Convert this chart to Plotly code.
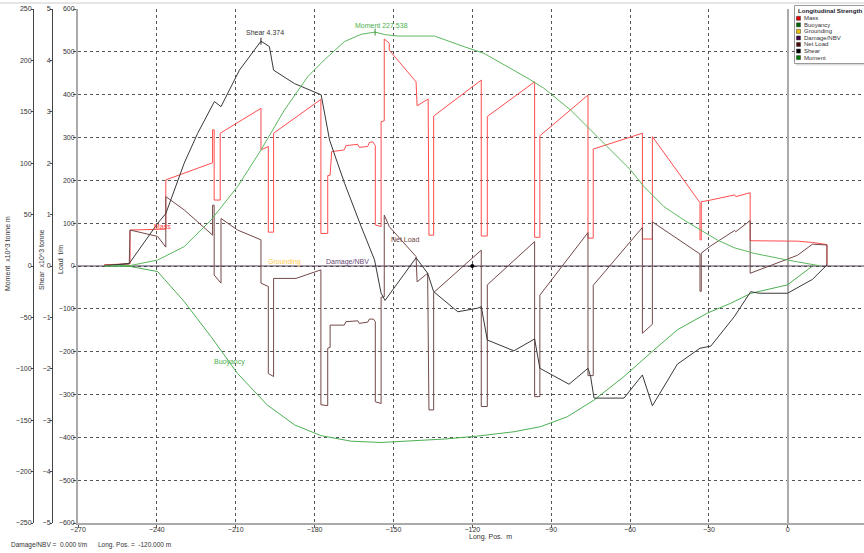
import plotly.graph_objects as go

# ---- Longitudinal strength data (position in m) ----
mass_x = [-260, -250.2, -250.2, -236.6, -236.6, -218.8, -218.8, -218.2, -218.2, -215.9,
          -215.9, -200.4, -200.4, -197.6, -197.6, -195.6, -195.6, -177.6, -177.6, -175.0,
          -175.0, -174.1, -173.5, -168.7, -168.1, -163.6, -163.0, -159.8, -159.2, -157.9,
          -156.9, -156.9, -154.7, -154.7, -153.5, -153.5, -151.6, -151.6, -141.4, -141.0,
          -136.8, -136.5, -134.7, -134.7, -116.6, -116.6, -114.3, -114.3, -96.3, -96.3,
          -94.3, -94.3, -76.0, -76.0, -74.0, -74.0, -55.3, -55.3, -51.5, -51.5,
          -33.4, -33.4, -32.9, -32.9, -29.3, -20.2, -19.8, -14.3, -14.3, 3.7,
          9.4, 14.9, 14.9]
mass_load = [3, 5, 84, 86, 201, 241, 318, 318, 154, 154,
             310, 368, 271, 279, 79, 79, 310, 389, 76, 76,
             211, 212, 267, 271, 281, 284, 277, 279, 288, 290,
             281, 96, 92, 337, 339, 530, 520, 504, 430, 374,
             390, 72, 72, 350, 434, 70, 70, 349, 430, 67,
             67, 304, 399, 65, 65, 273, 310, 63, 63, 302,
             148, 61, 61, 150, 154, 166, 162, 171, 59, 58,
             55, 50, 0]

net_x = [-260, -250.5, -250.2, -239.7, -236.6, -236.6, -229.6, -218.8, -218.8, -218.2,
         -218.2, -215.6, -215.6, -209.3, -200.4, -200.4, -197.6, -197.6, -195.6, -195.6,
         -187.1, -177.6, -177.6, -175.0, -175.0, -174.1, -174.1, -168.7, -168.1, -163.6,
         -163.0, -159.8, -159.2, -157.6, -156.9, -156.9, -154.7, -154.7, -153.5, -153.5,
         -151.6, -141.4, -141.0, -137.0, -136.5, -134.7, -134.7, -116.6, -116.6, -114.3,
         -114.3, -96.3, -96.3, -94.3, -94.3, -76.0, -76.0, -74.0, -74.0, -55.3,
         -55.3, -51.5, -51.5, -33.4, -33.4, -32.9, -32.9, -29.3, -20.2, -19.8,
         -14.3, -14.3, 3.7, 9.4, 14.9, 14.9]
net_load = [2, 5, 84, 69, 44, 162, 131, 72, 142, 142,
            -21, -40, 111, 84, 61, -40, -48, -251, -258, -29,
            -29, -9, -324, -326, -192, -190, -138, -138, -130, -128,
            -134, -131, -124, -124, -130, -317, -321, -73, -72, 119,
            92, 22, -37, -17, -336, -336, -62, 37, -328, -328,
            -44, 57, -305, -305, -68, 78, -256, -256, -45, 90,
            -157, -136, 103, 28, -59, -59, 30, 47, 83, 80,
            106, -17, 25, 51, 49, 0]

buoy_x = [-260, -250.2, -239.7, -229.6, -219.4, -209.3, -197.9, -187.6, -177.6, -166.1,
          -154.7, -143.3, -130.6, -117.9, -104.2, -94.0, -83.9, -73.7, -62.3, -50.9,
          -42.0, -30.6, -21.7, -14.1, -0.1, 9.4]
buoy_load = [0, -1, -13, -83, -165, -251, -325, -371, -396, -409,
             -412, -409, -404, -397, -387, -375, -352, -313, -258, -196,
             -149, -110, -87, -64, -44, 0]

moment_x = [-260, -250, -239.7, -229.6, -219.4, -209.3, -200.4, -191.5, -182.6, -176.3,
            -168.7, -162.3, -157.0, -153.0, -148.3, -134.4, -123.2, -115.6, -97.8, -92.7,
            -82.6, -76.2, -67.4, -59.8, -54.7, -47.1, -39.5, -33.1, -26.8, -20.4,
            -12.8, -0.1, 9.4, 12.6]
moment_val = [0, 0.5, 5.8, 18.8, 44.7, 77.2, 112.8, 151.7, 184.2, 200.4,
              218.2, 225.4, 227.538, 225.0, 223.7, 223.7, 213.4, 206.9, 181.0, 172.8,
              151.7, 135.5, 112.8, 93.4, 77.2, 57.7, 44.7, 35.0, 25.3, 17.8,
              12.3, 5.8, 1.0, 0]

shear_x = [-260, -250.5, -239.7, -236.6, -229.6, -224.5, -218.1, -215.6, -208.6, -200.4,
           -197.2, -195.6, -187.7, -177.5, -174.3, -168.6, -162.3, -157.2, -154.7, -153.2,
           -141.4, -137.0, -134.7, -125.5, -117.9, -116.6, -114.3, -104.2, -96.3, -94.3,
           -83.2, -76.0, -75.0, -73.7, -62.3, -55.3, -51.5, -42.0, -33.4, -29.3,
           -20.4, -14.1, -10.9, -0.1, 9.4, 14.9]
shear_val = [0, 0.05, 0.83, 1.02, 2.0, 2.58, 3.2, 3.1, 3.81, 4.374,
             4.27, 3.81, 3.55, 3.33, 2.45, 1.61, 0.77, 0.12, -0.53, -0.67,
             0.16, -0.14, -0.5, -0.89, -0.82, -0.79, -1.44, -1.65, -1.42, -1.99,
             -2.3, -1.99, -2.15, -2.57, -2.57, -2.12, -2.72, -1.91, -1.6, -1.56,
             -0.99, -0.5, -0.53, -0.53, -0.26, 0.02]

zero_x = [-270, 29]
damage_load = [0, 0]

x_ticks = [-270, -240, -210, -180, -150, -120, -90, -60, -30, 0]
load_ticks = list(range(-600, 601, 100))
shear_ticks = list(range(-5, 6, 1))
moment_ticks = list(range(-250, 251, 50))

cursor_pos = -120.0
cursor_value = 0.0

legend_names = ["Mass", "Buoyancy", "Grounding", "Damage/NBV", "Net Load", "Shear", "Moment"]
legend_swatches = ["#e00000", "#006400", "#f0c000", "#3c0040", "#4a0808", "#000000", "#007a00"]

# ---- figure ----
W, H = 864, 553
L_PX, T_PX, B_PX = 78, 9, 523
FONT = "Liberation Sans"


def px(x):
    # margins are zero left/right, so paper x is just pixels / width
    return x / W


def py(y):
    return (B_PX - y) / (B_PX - T_PX)


fig = go.Figure()

fig.add_trace(go.Scatter(x=zero_x, y=damage_load, mode="lines",
                         line=dict(color="#4e3452", width=1), hoverinfo="skip"))
fig.add_trace(go.Scatter(x=buoy_x, y=buoy_load, mode="lines",
                         line=dict(color="#4caf50", width=1)))
fig.add_trace(go.Scatter(x=moment_x, y=moment_val, mode="lines", yaxis="y3",
                         line=dict(color="#5cb85c", width=1)))
fig.add_trace(go.Scatter(x=mass_x, y=mass_load, mode="lines",
                         line=dict(color="#ff4d4d", width=1)))
fig.add_trace(go.Scatter(x=net_x, y=net_load, mode="lines",
                         line=dict(color="#744848", width=1)))
fig.add_trace(go.Scatter(x=shear_x, y=shear_val, mode="lines", yaxis="y2",
                         line=dict(color="#383838", width=1)))

# peak markers
i_m = moment_val.index(max(moment_val))
i_s = shear_val.index(max(shear_val))
fig.add_trace(go.Scatter(x=[moment_x[i_m]], y=[moment_val[i_m]], yaxis="y3", mode="markers",
                         marker=dict(symbol="line-ns", size=5, line=dict(color="#3a8a3a", width=1))))
fig.add_trace(go.Scatter(x=[shear_x[i_s]], y=[shear_val[i_s]], yaxis="y2", mode="markers",
                         marker=dict(symbol="line-ns", size=5, line=dict(color="#222", width=1))))
# cursor point
fig.add_trace(go.Scatter(x=[cursor_pos], y=[cursor_value], mode="markers",
                         marker=dict(symbol="circle", size=4, color="#000")))

tick_font = dict(family=FONT, size=7, color="#333")
grid = dict(showgrid=True, gridcolor="#555", griddash="dot", gridwidth=1)

fig.update_layout(
    width=W, height=H,
    margin=dict(l=0, r=0, t=T_PX, b=H - B_PX, pad=0, autoexpand=False),
    paper_bgcolor="white", plot_bgcolor="white",
    showlegend=False,
    font=dict(family=FONT, size=7, color="#333"),
    xaxis=dict(domain=[L_PX / W, 1], range=[-270, 29], automargin=False,
               tickvals=x_ticks, ticks="outside", ticklen=3, tickcolor="#555",
               ticklabelstandoff=-4,
               tickfont=tick_font, showline=True, linecolor="#aaa", linewidth=2,
               zeroline=True, zerolinecolor="#aaa", zerolinewidth=2, **grid),
    yaxis=dict(range=[-600, 600], tickvals=load_ticks, ticks="outside", ticklen=3,
               ticklabelstandoff=-3, automargin=False,
               tickcolor="#555", tickfont=tick_font, showline=True, linecolor="#aaa",
               linewidth=2, zeroline=False, **grid),
    yaxis2=dict(range=[-5, 5], tickvals=shear_ticks, overlaying="y", anchor="free",
                position=52 / W, side="left", ticks="outside", ticklen=2, tickcolor="#444",
                ticklabelstandoff=-2, automargin=False,
                tickfont=tick_font, showline=True, linecolor="#444", linewidth=1,
                showgrid=False, zeroline=False),
    yaxis3=dict(range=[-250, 250], tickvals=moment_ticks, overlaying="y", anchor="free",
                position=33 / W, side="left", ticks="outside", ticklen=2, tickcolor="#444",
                ticklabelstandoff=-2, automargin=False,
                tickfont=tick_font, showline=True, linecolor="#444", linewidth=1,
                showgrid=False, zeroline=False),
)

ann = []


def paper_text(x, y, text, size=7, color="#333", angle=0, xanchor="center", bold=False):
    if bold:
        text = "<b>" + text + "</b>"
    ann.append(dict(x=px(x), y=py(y), xref="paper", yref="paper", text=text, showarrow=False,
                    textangle=angle, xanchor=xanchor, yanchor="middle", borderpad=0,
                    font=dict(family=FONT, size=size, color=color)))


def data_text(x, y, text, color, yref="y"):
    ann.append(dict(x=x, y=y, xref="x", yref=yref, text=text, showarrow=False,
                    xanchor="center", yanchor="middle",
                    font=dict(family=FONT, size=7, color=color)))


# axis titles
paper_text(8, 254, "Moment  x10^3 tonne m", angle=-90)
paper_text(41, 260, "Shear  x10^3 tonne", angle=-90)
paper_text(60, 260, "Load  t/m", angle=-90)
paper_text(490, 537, "Long. Pos.  m")
# read-out line
paper_text(10, 545, "Damage/NBV =  %.3f t/m" % cursor_value, size=6.5, xanchor="left")
paper_text(97, 545, "Long. Pos. =  %.3f m" % cursor_pos, size=6.5, xanchor="left")

# series labels on the plot
data_text(-237.8, 93, "Mass", "#ff4040")
data_text(-191.3, 9, "Grounding", "#ffc94d")
data_text(-167.4, 9, "Damage/NBV", "#6a4a7a")
data_text(-145.6, 61, "Net Load", "#6e4545")
data_text(-212.3, -224, "Buoyancy", "#4caf50")
data_text(shear_x[i_s] + 1.5, shear_val[i_s] + 0.16, "Shear %.3f" % shear_val[i_s], "#333", yref="y2")
data_text(moment_x[i_m] + 2.5, moment_val[i_m] + 6.5, "Moment %.3f" % moment_val[i_m], "#4caf50", yref="y3")

# legend box and frame line
shapes = [
    dict(type="line", xref="paper", yref="paper", x0=0, x1=1,
         y0=py(3), y1=py(3), line=dict(color="#ccc", width=1)),
    dict(type="rect", xref="paper", yref="paper", x0=px(794.5), x1=px(866), y0=py(63.5), y1=py(5.5),
         line=dict(color="#999", width=1), fillcolor="white", layer="above"),
    dict(type="line", xref="paper", yref="paper", x0=px(796), x1=px(866), y0=py(64.8), y1=py(64.8),
         line=dict(color="#ccc", width=1), layer="above"),
]
paper_text(797, 11, "Longitudinal Strength", size=6.2, color="#1a1a2a", xanchor="left", bold=True)
for i, (name, col) in enumerate(zip(legend_names, legend_swatches)):
    yy = 18.3 + 6.55 * i
    shapes.append(dict(type="rect", xref="paper", yref="paper", x0=px(796.5), x1=px(800.5),
                       y0=py(yy + 2), y1=py(yy - 2), fillcolor=col,
                       line=dict(color="#333", width=0.5), layer="above"))
    paper_text(802.5, yy, name, size=6, color="#333", xanchor="left")

fig.update_layout(annotations=ann, shapes=shapes)

fig.write_html("out.html")
